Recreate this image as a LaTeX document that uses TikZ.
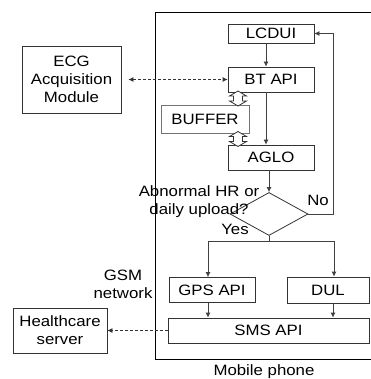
\documentclass[tikz,border=0pt]{standalone}
\usepackage{fontspec}
\setmainfont{Liberation Sans}[FakeStretch=1.12]
\usetikzlibrary{shapes.geometric,arrows.meta}
\begin{document}
\begin{tikzpicture}[x=1pt,y=-1pt,
  every node/.style={font=\fontsize{15}{18}\selectfont},
  box/.style={draw=black!80,line width=0.8pt,inner sep=0pt,minimum width=86pt,minimum height=25pt},
  arr/.style={draw=black!75,line width=0.8pt,-{Latex[length=5pt,width=5pt]}},
  ln/.style={draw=black!75,line width=0.8pt},
  dashline/.style={draw=black!80,line width=0.8pt,dash pattern=on 3pt off 2pt},
  blockarrow/.style={draw=black!80,fill=white,line width=0.8pt},
  dblarrow/.pic={\path[blockarrow] (0,-7.5) -- (8.5,-2.5) -- (4.5,-2.5) -- (4.5,2.5) -- (8.5,2.5) -- (0,7.5) -- (-8.5,2.5) -- (-4.5,2.5) -- (-4.5,-2.5) -- (-8.5,-2.5) -- cycle;}]
\useasboundingbox (0,0) rectangle (370,379);
% mobile phone frame
\draw[line width=0.9pt] (372,12) -- (155,12) -- (155,359) -- (372,359);
\node (mp) at (264,372) {Mobile phone};

\node[box,minimum height=19pt] (lcdui) at (271,33.5) {LCDUI};
\node[box] (bt) at (271,79.5) {BT API};
\node[box,draw=black!55,minimum width=88pt,minimum height=28pt] (buf) at (205,119) {BUFFER};
\node[box] (aglo) at (271,157.5) {AGLO};
\node[box,minimum width=99pt,minimum height=67pt,align=center] (ecg) at (71.5,79.5) {ECG\\Acquisition\\Module};
\node[diamond,draw=black!80,line width=0.8pt,inner sep=0pt,minimum width=78pt,minimum height=43pt] (dia) at (269,214) {};
\node[box] (gps) at (212,290) {GPS API};
\node[box,minimum width=82pt,minimum height=26pt] (dul) at (328,290) {DUL};
\node[box,minimum width=201pt] (sms) at (268.5,330.5) {SMS API};
\node[box,minimum width=94pt,minimum height=45pt,align=center] (hc) at (60,330.5) {Healthcare\\server};

% labels
\node[align=center] (q) at (199,202) {Abnormal HR or\\daily upload?};
\node (no) at (318,200) {No};
\node (yes) at (235,229) {Yes};
\node[align=center] (gsm) at (123,284) {GSM\\network};

% block arrows between BT API, BUFFER and AGLO
\coordinate (ba1) at (238,98.5);
\coordinate (ba2) at (238,139);
\pic at (ba1) {dblarrow};
\pic at (ba2) {dblarrow};

% connectors
\draw[arr] ([xshift=-5pt]lcdui.south) -- ([xshift=-5pt]bt.north);
\draw[arr] ([xshift=-5pt]bt.south) -- ([xshift=-5pt]aglo.north);
\draw[dashline,{Latex[length=5pt,width=5pt]}-{Latex[length=5pt,width=5pt]},shorten <=7pt] (ecg.east) -- (bt.west);
\draw[arr] (dia.north |- aglo.south) -- (dia.north);
\draw[arr] (dia.east) -- ++(25,0) coordinate (fb) |- (lcdui.east);
\draw[ln] (dia.south) -- ++(0,5) coordinate (split);
\draw[arr] (split) -| ([xshift=-4pt]gps.north);
\draw[arr] (split) -| ([xshift=6pt]dul.north);
\draw[arr] ([xshift=-4pt]gps.south) -- ([xshift=-4pt]gps.south |- sms.north);
\draw[arr] ([xshift=5pt]dul.south) -- ([xshift=5pt]dul.south |- sms.north);
\draw[dashline,-{Latex[length=5pt,width=5pt]}] (sms.west) -- (hc.east);
\end{tikzpicture}
\end{document}
